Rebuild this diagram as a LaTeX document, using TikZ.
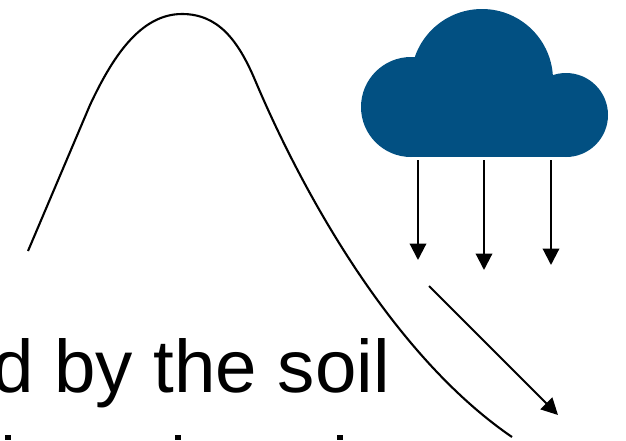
\documentclass[tikz,border=0pt]{standalone}
\usepackage{fontspec}
\setmainfont{Liberation Sans}
\usetikzlibrary{arrows.meta,positioning}
\definecolor{cloudblue}{HTML}{025082}
\tikzset{
  cloudlobe/.style={
    fill=cloudblue, draw=none
  },
  rainarrow/.style={
    -{Triangle[length=3.3mm, width=3.3mm]}, line width=0.42mm, color=black
  },
  ridgeline/.style={
    line width=0.42mm, color=black, line join=round
  },
  captionnode/.style={
    font=\fontsize{42.4}{50}\selectfont, color=black, inner sep=0pt
  },
  stubbox/.style={
    rectangle, fill=black, draw=none, minimum width=0.12cm, minimum height=0.1cm,
    inner sep=0pt, anchor=north
  },
}
\begin{document}
\begin{tikzpicture}[x=0.02cm, y=-0.02cm]
  \useasboundingbox (0,0) rectangle (626,440);
  \clip (0,0) rectangle (626,440);

  \draw[ridgeline] (28,251) -- (90,105)
    .. controls (112,58) and (140,14) .. (182,14)
    .. controls (218,14) and (238,40) .. (255,80)
    .. controls (295,175) and (385,350) .. (512,437);

  \fill[cloudlobe] (411,107) circle (50);
  \fill[cloudlobe] (482,80) circle (71);
  \fill[cloudlobe] (566,115) circle (42);
  \fill[cloudlobe] (411,107) rectangle (566,157);

  \coordinate (rainOneTop) at (418,160);
  \coordinate (rainOneEnd) at (418,260);
  \coordinate (rainTwoTop) at (484,160);
  \coordinate (rainTwoEnd) at (484,270);
  \coordinate (rainThreeTop) at (551,160);
  \coordinate (rainThreeEnd) at (551,265);
  \coordinate (runoffTop) at (429,286);
  \coordinate (runoffEnd) at (558,415);

  \draw[rainarrow] (rainOneTop) -- (rainOneEnd);
  \draw[rainarrow] (rainTwoTop) -- (rainTwoEnd);
  \draw[rainarrow] (rainThreeTop) -- (rainThreeEnd);
  \draw[rainarrow] (runoffTop) -- (runoffEnd);

  \node[captionnode, anchor=base east] (caption) at (390,392) {d by the soil};

  \node[stubbox] (stubA) at (8,435) {};
  \node[stubbox] (stubB) at (178,435) {};
  \node[stubbox] (stubC) at (340,435) {};
\end{tikzpicture}
\end{document}
